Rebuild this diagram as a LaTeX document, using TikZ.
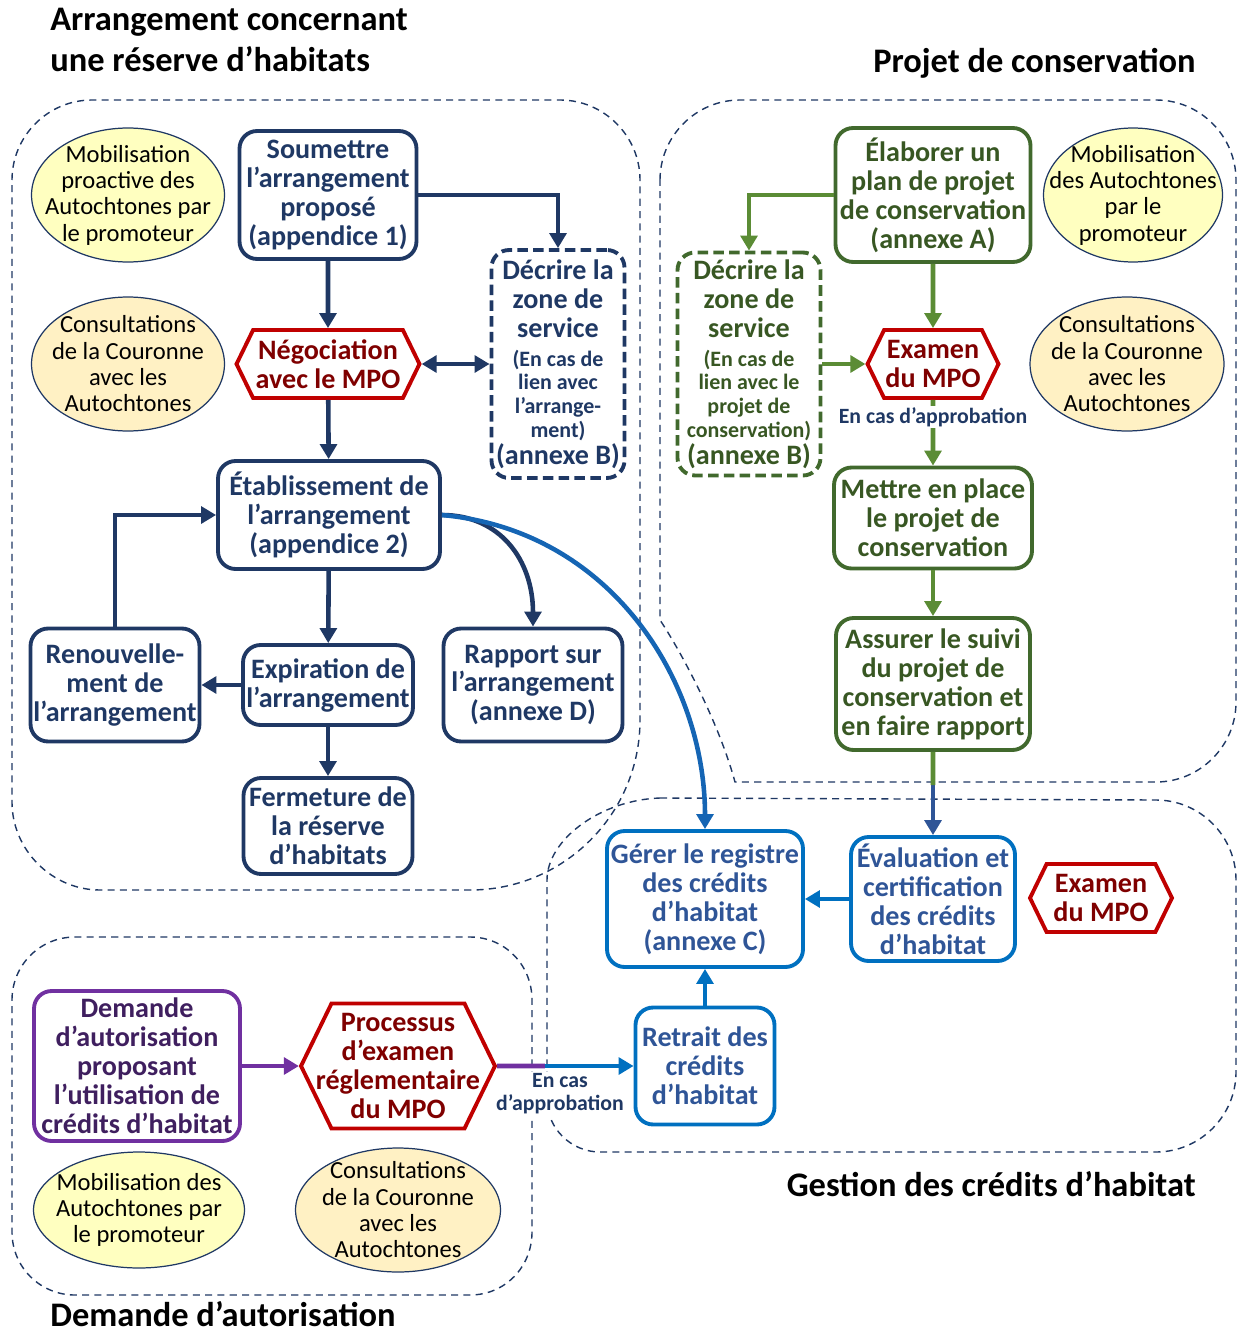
\documentclass[tikz,border=0pt]{standalone}
\usepackage{fontspec}
\setmainfont{Carlito}
\usetikzlibrary{arrows.meta,calc,shapes.geometric,shapes.symbols}

\definecolor{navy}{HTML}{1F3864}
\definecolor{dred}{HTML}{C00000}
\definecolor{maroon}{HTML}{7F0000}
\definecolor{gline}{HTML}{41692D}
\definecolor{gtext}{HTML}{385723}
\definecolor{garrow}{HTML}{5B8C35}
\definecolor{bline}{HTML}{0070C0}
\definecolor{btext}{HTML}{2F5597}
\definecolor{bcurve}{HTML}{1565B4}
\definecolor{bsteel}{HTML}{2F5597}
\definecolor{pline}{HTML}{7030A0}
\definecolor{ptext}{HTML}{3F1F5F}
\definecolor{yelA}{HTML}{FFFFC0}
\definecolor{yelB}{HTML}{FFF1C4}

\newcommand\petit{\fontsize{12.5}{13.6}\selectfont}
\newcommand\grand{\fontsize{16}{16.5}\selectfont}

\begin{document}
\begin{tikzpicture}[x=0.02cm,y=-0.02cm,>={Triangle[length=8.5pt,width=9.5pt]},
  region/.style={draw=navy,line width=0.8pt,dash pattern=on 4pt off 3pt},
  box/.style={draw,rounded corners=10pt,line width=2.2pt,align=center,inner sep=1pt,
    font=\fontsize{16}{16.5}\selectfont\bfseries},
  navbox/.style={box,draw=navy,text=navy},
  grnbox/.style={box,draw=gline,text=gtext},
  blubox/.style={box,draw=bline,text=btext},
  hexa/.style={signal,signal to=west and east,signal pointer angle=128,draw=dred,
    line width=2.2pt,text=maroon,align=center,inner sep=0pt,
    font=\fontsize{16}{16.5}\selectfont\bfseries},
  htext/.style={text=maroon,align=center,font=\fontsize{16}{16.5}\selectfont\bfseries},
  blob/.style={ellipse,draw=navy,line width=0.7pt,inner sep=0pt},
  ltext/.style={align=center,font=\fontsize{14}{15}\selectfont},
  navyline/.style={draw=navy,line width=2.6pt},
  grnline/.style={draw=garrow,line width=2.6pt},
  bluline/.style={draw=bline,line width=2.6pt},
  purline/.style={draw=pline,line width=2.6pt},
  title/.style={font=\fontsize{19.6}{23.2}\selectfont\bfseries,inner sep=0pt},
  note/.style={font=\fontsize{12.4}{13.2}\selectfont\bfseries,text=navy,fill=white,
    inner sep=1pt,align=center}]
\useasboundingbox (0,0) rectangle (1238,1335);

% regions
\draw[region] (12,180) .. controls (12,136) and (48,100) .. (92,100) -- (560,100)
  .. controls (604,100) and (640,136) .. (640,180) -- (640,720)
  .. controls (640,814) and (564,890) .. (470,890) -- (100,890)
  .. controls (52,890) and (12,850) .. (12,802) -- cycle;
\draw[region] (660,180) .. controls (660,136) and (696,100) .. (740,100) -- (1156,100)
  .. controls (1200,100) and (1236,136) .. (1236,180) -- (1236,702)
  .. controls (1236,746) and (1200,782) .. (1156,782) -- (735,782)
  .. controls (718,720) and (680,650) .. (660,620) -- cycle;
\draw[region] (660,798) -- (1156,800) .. controls (1200,800) and (1236,836) .. (1236,880)
  -- (1236,1072) .. controls (1236,1116) and (1200,1152) .. (1156,1152) -- (600,1152)
  .. controls (571,1152) and (547,1128) .. (547,1100) -- (547,880)
  .. controls (547,840) and (600,800) .. (660,798);
\draw[region] (12,1000) .. controls (12,965) and (40,937) .. (75,937) -- (470,937)
  .. controls (505,937) and (532,965) .. (532,1000) -- (532,1232)
  .. controls (532,1267) and (505,1295) .. (470,1295) -- (75,1295)
  .. controls (40,1295) and (12,1267) .. (12,1232) -- cycle;

% titles
\node[title,anchor=west,align=left] (t1) at (50,40) {Arrangement concernant\\une réserve d’habitats};
\node[title,anchor=east] (t2) at (1196,63) {Projet de conservation};
\node[title,anchor=east] (t3) at (1196,1184) {Gestion des crédits d’habitat};
\node[title,anchor=west] (t4) at (50,1314) {Demande d’autorisation};

% arrangement
\node[blob,fill=yelA,minimum width=3.86cm,minimum height=2.68cm,
  label={[ltext]center:{Mobilisation\\proactive des\\Autochtones par\\le promoteur}}] (mob1) at (128,195) {};
\node[blob,fill=yelB,minimum width=3.86cm,minimum height=2.68cm,
  label={[ltext]center:{Consultations\\de la Couronne\\avec les\\Autochtones}}] (cons1) at (128,364) {};
\node[navbox,minimum width=3.54cm,minimum height=2.56cm] (soumettre) at (328,195) {Soumettre\\l’arrangement\\proposé\\(appendice 1)};
\node[hexa,minimum width=3.66cm,minimum height=1.36cm] (nego) at (328,364) {Négociation\\avec le MPO};
\node[navbox,dash pattern=on 6pt off 3pt,minimum width=2.66cm,minimum height=4.56cm] (decrire1) at (558,364)
  {Décrire la\\zone de\\service\\\petit(En cas de\\[-3pt]\petit lien avec\\[-3pt]\petit l’arrange-\\[-3pt]\petit ment)\\[-1pt]\grand(annexe B)};
\node[navbox,minimum width=4.44cm,minimum height=2.16cm] (etab) at (329,515) {Établissement de\\l’arrangement\\(appendice 2)};
\node[navbox,minimum width=3.38cm,minimum height=2.26cm] (renouv) at (115,685) {Renouvelle-\\ment de\\l’arrangement};
\node[navbox,minimum width=3.4cm,minimum height=1.6cm] (expir) at (328,685) {Expiration de\\l’arrangement};
\node[navbox,minimum width=3.58cm,minimum height=2.26cm] (rapport) at (533,685) {Rapport sur\\l’arrangement\\(annexe D)};
\node[navbox,minimum width=3.38cm,minimum height=1.92cm] (ferm) at (328,826) {Fermeture de\\la réserve\\d’habitats};

\draw[navyline,->] (soumettre) -- (nego);
\draw[navyline,->] (soumettre.east) -| (decrire1.north);
\draw[navyline,<->] (nego.east) -- (decrire1.west);
\draw[navyline,->] (nego) -- (etab);
\draw[navyline,->] (etab) -- (expir);
\draw[navyline,->] (expir) -- (renouv);
\draw[navyline,->] (renouv.north) |- (etab.west);
\draw[navyline,->] (expir) -- (ferm);
\draw[navyline,->] (etab.east) .. controls (500,515) and (533,560) .. (rapport.north);

% projet de conservation
\node[grnbox,minimum width=3.9cm,minimum height=2.68cm] (elaborer) at (933,195) {Élaborer un\\plan de projet\\de conservation\\(annexe A)};
\node[grnbox,dash pattern=on 6pt off 3pt,minimum width=2.86cm,minimum height=4.46cm] (decrire2) at (749,364)
  {Décrire la\\zone de\\service\\\petit(En cas de\\[-3pt]\petit lien avec le\\[-3pt]\petit projet de\\[-3pt]\petit conservation)\\[-1pt]\grand(annexe B)};
\node[hexa,minimum width=2.62cm,minimum height=1.36cm] (examen1) at (933,364) {Examen\\du MPO};
\node[grnbox,minimum width=3.96cm,minimum height=2.02cm] (mettre) at (933,518) {Mettre en place\\le projet de\\conservation};
\node[grnbox,minimum width=3.88cm,minimum height=2.64cm] (assurer) at (933,684) {Assurer le suivi\\du projet de\\conservation et\\en faire rapport};
\node[blob,fill=yelA,minimum width=3.58cm,minimum height=2.68cm,
  label={[ltext]center:{Mobilisation\\des Autochtones\\par le\\promoteur}}] (mob2) at (1133,195) {};
\node[blob,fill=yelB,minimum width=3.88cm,minimum height=2.68cm,
  label={[ltext]center:{Consultations\\de la Couronne\\avec les\\Autochtones}}] (cons2) at (1127,364) {};

\draw[grnline,->] (elaborer.west) -| (decrire2.north);
\draw[grnline,->] (elaborer) -- (examen1);
\draw[grnline,->] (decrire2.east) -- (examen1.west);
\draw[grnline,->] (examen1) -- (mettre);
\draw[grnline,->] (mettre) -- (assurer);
\node[note] (approb1) at (933,417) {En cas d’approbation};

% gestion des credits
\node[blubox,minimum width=3.92cm,minimum height=2.72cm] (gerer) at (705,899) {Gérer le registre\\des crédits\\d’habitat\\(annexe C)};
\node[blubox,minimum width=3.28cm,minimum height=2.48cm] (eval) at (933,899) {Évaluation et\\certification\\des crédits\\d’habitat};
\node[hexa,minimum width=2.84cm,minimum height=1.36cm] (examen2) at (1101,898) {Examen\\du MPO};
\node[blubox,minimum width=2.78cm,minimum height=2.34cm] (retrait) at (705,1066) {Retrait des\\crédits\\d’habitat};

\draw[bluline,draw=bsteel,->] (assurer) -- (eval);
\draw[grnline] (assurer.south) -- ($(assurer.south)!0.4!(eval.north)$);
\draw[bluline,->] (eval) -- (gerer);
\draw[bluline,->] (retrait) -- (gerer);
\draw[bluline,draw=bcurve,->] (etab.east) .. controls (610,530) and (705,680) .. (gerer.north);

% demande d'autorisation
\node[box,draw=pline,text=ptext,minimum width=4.12cm,minimum height=3cm] (demande) at (137,1066) {Demande\\d’autorisation\\proposant\\l’utilisation de\\crédits d’habitat};
\node[hexa,minimum width=3.88cm,minimum height=2.5cm,
  label={[htext]center:{Processus\\d’examen\\réglementaire\\du MPO}}] (processus) at (398,1066) {};
\node[blob,fill=yelA,minimum width=4.22cm,minimum height=2.32cm,
  label={[ltext]center:{Mobilisation des\\Autochtones par\\le promoteur}}] (mob3) at (139,1210) {};
\node[blob,fill=yelB,minimum width=4.1cm,minimum height=2.48cm,
  label={[ltext]center:{Consultations\\de la Couronne\\avec les\\Autochtones}}] (cons3) at (398,1210) {};

\draw[purline,->] (demande) -- (processus);
\node[note] (approb2) at (560,1094) {En cas\\d’approbation};
\draw[bluline,->] (processus.east) -- (retrait.west);
\draw[purline] (processus.east) -- ($(processus.east)!0.35!(retrait.west)$);
\end{tikzpicture}
\end{document}
